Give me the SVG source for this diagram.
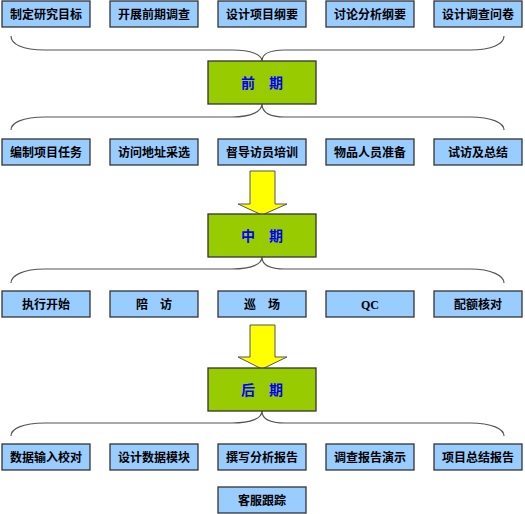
<svg xmlns="http://www.w3.org/2000/svg" width="525" height="514" viewBox="0 0 525 514">
<style>
.b{fill:#99CCFF;stroke:#333;stroke-width:1.3}
.g{fill:#99CC00;stroke:#333;stroke-width:1.3}
.t{font-family:"Noto Sans CJK SC","Noto Sans CJK TC",sans-serif;font-size:12px;font-weight:bold;fill:#000;text-anchor:middle}
.gt{font-family:"Noto Sans CJK SC",sans-serif;font-size:14px;font-weight:bold;fill:#0000FF;text-anchor:middle}
.q{font-family:"Liberation Serif",serif;font-size:12px;font-weight:bold;fill:#000;text-anchor:middle}
.br{fill:none;stroke:#555;stroke-width:1.2}
.ar{fill:#FFFF00;stroke:#555;stroke-width:1}
</style>
<rect width="525" height="514" fill="#fff"/>
<g id="connectors">
<path class="br" d="M11,36 C11,44 22,50 45,50 L232,50 C252,50 262,55 262,61 C262,55 268,50 285,50 L470,50 C492,50 504,44 504,36"/>
<path class="br" d="M262,104 C262,111 252,117 232,117 L45,117 C22,117 11,123 11,130 M262,104 C262,111 268,117 285,117 L470,117 C492,117 504,123 504,130"/>
<path class="br" d="M262,257 C262,264 252,269 232,269 L45,269 C22,269 11,276 11,283 M262,257 C262,264 268,269 285,269 L470,269 C492,269 504,276 504,283"/>
<path class="br" d="M262,411 C262,418 252,423 232,423 L45,423 C22,423 11,429 11,436 M262,411 C262,418 268,423 285,423 L470,423 C492,423 504,429 504,436"/>
<path class="ar" d="M250,171 L275,171 L275,204 L287,204 L262,215 L238,204 L250,204 Z"/>
<path class="ar" d="M250,325 L275,325 L275,357 L287,357 L262,369 L238,357 L250,357 Z"/>
</g>
<g id="n1"><rect class="b" x="2" y="1" width="88" height="26"/><text class="t" x="46" y="18.5">制定研究目标</text></g>
<g id="n2"><rect class="b" x="110" y="1" width="88" height="26"/><text class="t" x="154" y="18.5">开展前期调查</text></g>
<g id="n3"><rect class="b" x="218" y="1" width="88" height="26"/><text class="t" x="262" y="18.5">设计项目纲要</text></g>
<g id="n4"><rect class="b" x="326" y="1" width="88" height="26"/><text class="t" x="370" y="18.5">讨论分析纲要</text></g>
<g id="n5"><rect class="b" x="434" y="1" width="88" height="26"/><text class="t" x="478" y="18.5">设计调查问卷</text></g>
<g id="p1"><rect class="g" x="208" y="61" width="108" height="43"/><text class="gt" x="262" y="87.5">前　期</text></g>
<g id="n6"><rect class="b" x="2" y="139" width="88" height="26"/><text class="t" x="46" y="156.5">编制项目任务</text></g>
<g id="n7"><rect class="b" x="110" y="139" width="88" height="26"/><text class="t" x="154" y="156.5">访问地址采选</text></g>
<g id="n8"><rect class="b" x="218" y="139" width="88" height="26"/><text class="t" x="262" y="156.5">督导访员培训</text></g>
<g id="n9"><rect class="b" x="326" y="139" width="88" height="26"/><text class="t" x="370" y="156.5">物品人员准备</text></g>
<g id="n10"><rect class="b" x="434" y="139" width="88" height="26"/><text class="t" x="478" y="156.5">试访及总结</text></g>
<g id="p2"><rect class="g" x="208" y="214" width="108" height="43"/><text class="gt" x="262" y="240.5">中　期</text></g>
<g id="n11"><rect class="b" x="2" y="291" width="88" height="26"/><text class="t" x="46" y="308.5">执行开始</text></g>
<g id="n12"><rect class="b" x="110" y="291" width="88" height="26"/><text class="t" x="154" y="308.5">陪　访</text></g>
<g id="n13"><rect class="b" x="218" y="291" width="88" height="26"/><text class="t" x="262" y="308.5">巡　场</text></g>
<g id="n14"><rect class="b" x="326" y="291" width="88" height="26"/><text class="q" x="370" y="308.5">QC</text></g>
<g id="n15"><rect class="b" x="434" y="291" width="88" height="26"/><text class="t" x="478" y="308.5">配额核对</text></g>
<g id="p3"><rect class="g" x="208" y="368" width="108" height="43"/><text class="gt" x="262" y="394.5">后　期</text></g>
<g id="n16"><rect class="b" x="2" y="444" width="88" height="26"/><text class="t" x="46" y="461.5">数据输入校对</text></g>
<g id="n17"><rect class="b" x="110" y="444" width="88" height="26"/><text class="t" x="154" y="461.5">设计数据模块</text></g>
<g id="n18"><rect class="b" x="218" y="444" width="88" height="26"/><text class="t" x="262" y="461.5">撰写分析报告</text></g>
<g id="n19"><rect class="b" x="326" y="444" width="88" height="26"/><text class="t" x="370" y="461.5">调查报告演示</text></g>
<g id="n20"><rect class="b" x="434" y="444" width="88" height="26"/><text class="t" x="478" y="461.5">项目总结报告</text></g>
<g id="n21"><rect class="b" x="218" y="487" width="88" height="26"/><text class="t" x="262" y="504.5">客服跟踪</text></g>
</svg>
